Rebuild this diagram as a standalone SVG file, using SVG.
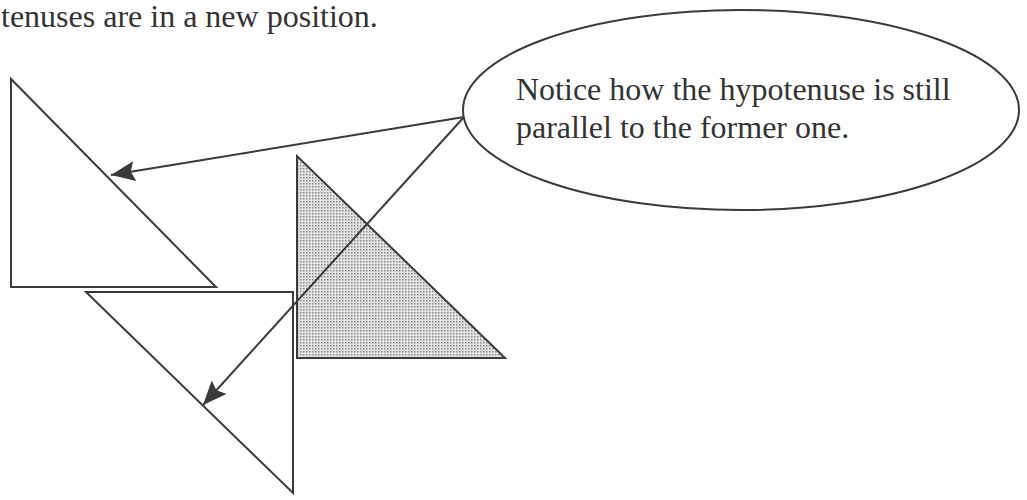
<svg xmlns="http://www.w3.org/2000/svg" width="1027" height="500" viewBox="0 0 1027 500">
<style>
.s{fill:none;stroke:#3a3a3a;stroke-width:2;stroke-linejoin:miter}
.t{font-family:"Liberation Serif",serif;font-size:32px;fill:#333}
.c{fill:none;stroke:#3a3a3a;stroke-width:2}
</style>
<defs>
<pattern id="dots" width="3" height="3" patternUnits="userSpaceOnUse">
<rect width="3" height="3" fill="#e4e4e4"/>
<rect width="1.5" height="1.5" fill="#8a8a8a"/>
</pattern>
<marker id="ah2" viewBox="0 0 24 20" refX="24" refY="10" markerWidth="24" markerHeight="20" markerUnits="userSpaceOnUse" orient="auto">
<path d="M0,0 L24,10 L0,20 L4,10 Z" fill="#3a3a3a"/>
</marker>
</defs>
<rect width="1027" height="500" fill="#fff"/>
<text class="t" x="1" y="27">tenuses are in a new position.</text>
<g id="tri1"><polygon class="s" points="11,79 11,287 216,287"/></g>
<g id="tri2"><polygon class="s" points="86,292 293,292 293,493"/></g>
<g id="tri3"><polygon class="s" points="297,156 297,358 505,358" style="fill:url(#dots)"/></g>
<g id="note">
<ellipse class="s" cx="741" cy="110" rx="278" ry="100" style="fill:#fff"/>
<text class="t" x="516" y="100">Notice how the hypotenuse is still</text>
<text class="t" x="516" y="138">parallel to the former one.</text>
</g>
<g id="connectors">
<line class="c" x1="464" y1="117" x2="111" y2="175" marker-end="url(#ah2)"/>
<line class="c" x1="464" y1="117" x2="203" y2="405" marker-end="url(#ah2)"/>
</g>
</svg>
